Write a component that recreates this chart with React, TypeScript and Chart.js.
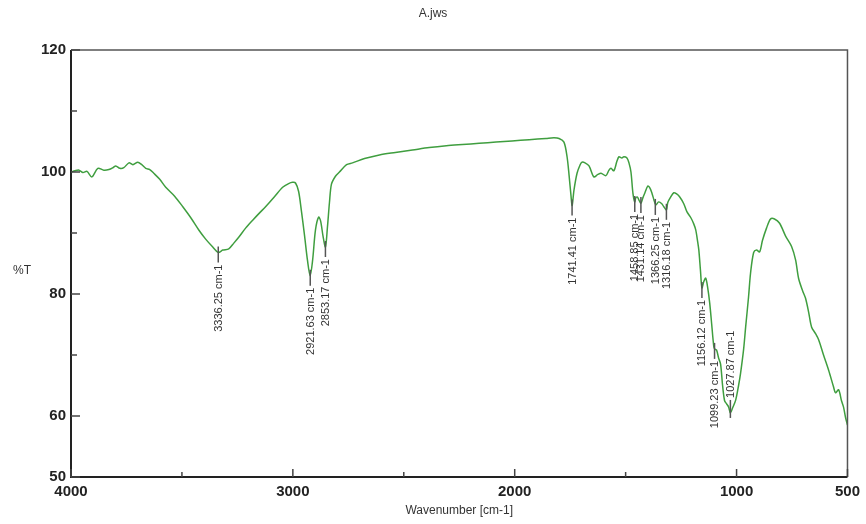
import { useEffect, useRef } from 'react';
import { Chart, registerables } from 'chart.js';

Chart.register(...registerables);

const chartTitle = 'A.jws';
const xAxisTitle = 'Wavenumber [cm-1]';
const yAxisTitle = '%T';

const wavenumbers = [
  4000, 3982, 3964, 3946, 3928, 3906, 3879, 3852, 3829, 3811, 3798, 3780, 3762, 3739, 3721, 3699, 3681, 3663,
  3645, 3627, 3600, 3573, 3532, 3496, 3460, 3424, 3393, 3361, 3336, 3316, 3289, 3267, 3244, 3213, 3181, 3150,
  3123, 3082, 3046, 3019, 3001, 2988, 2974, 2961, 2947, 2934, 2922, 2911, 2898, 2884, 2875, 2864, 2853, 2844,
  2835, 2826, 2808, 2790, 2758, 2731, 2677, 2610, 2538, 2461, 2385, 2308, 2236, 2160, 2084, 2012, 1935, 1859,
  1823, 1800, 1778, 1764, 1755, 1746, 1741, 1733, 1719, 1705, 1697, 1683, 1665, 1643, 1625, 1611, 1589, 1575,
  1566, 1553, 1539, 1530, 1517, 1508, 1494, 1485, 1476, 1467, 1459, 1454, 1447, 1440, 1431, 1422, 1413, 1400,
  1391, 1382, 1373, 1364, 1351, 1337, 1328, 1316, 1310, 1297, 1283, 1270, 1256, 1238, 1224, 1206, 1193, 1184,
  1175, 1170, 1163, 1156, 1148, 1139, 1130, 1121, 1112, 1103, 1099, 1090, 1081, 1072, 1063, 1054, 1045, 1036,
  1028, 1018, 1004, 991, 982, 968, 959, 946, 937, 923, 910, 896, 883, 865, 847, 829, 806, 779, 752, 734, 720,
  702, 689, 675, 662, 644, 630, 608, 585, 563, 554, 540, 527, 518, 509, 500,
];

const transmittance = [
  100.0, 100.2, 100.3, 99.9, 100.1, 99.2, 100.6, 100.3, 100.4, 100.7, 101.0, 100.6, 100.7, 101.5, 101.2, 101.6, 101.2, 100.6,
  100.4, 99.8, 98.8, 97.5, 96.0, 94.3, 92.5, 90.5, 89.0, 87.7, 86.8, 87.2, 87.4, 88.3, 89.3, 90.8, 92.1, 93.3,
  94.3, 96.0, 97.5, 98.1, 98.3, 98.2, 96.8, 93.5, 89.5, 85.5, 83.0, 85.5, 90.5, 92.6, 92.0, 89.5, 87.7, 91.0,
  95.0, 98.0, 99.3, 100.0, 101.2, 101.5, 102.2, 102.8, 103.2, 103.6, 104.0, 104.3, 104.5, 104.7, 104.9, 105.1, 105.3, 105.5,
  105.6, 105.5, 104.9, 102.5, 99.5, 96.0, 94.5, 97.0, 99.8, 101.2, 101.6, 101.5, 101.0, 99.2, 99.6, 99.8, 99.4, 100.3,
  100.6, 100.2, 101.8, 102.5, 102.3, 102.5, 102.3, 101.5, 100.0, 96.5, 95.1, 95.8, 95.9, 95.4, 94.9, 95.8, 96.6, 97.7,
  97.4, 96.6, 95.5, 94.6, 95.1, 94.8, 94.3, 93.8, 95.0, 95.9, 96.6, 96.4, 95.9, 94.8, 93.5, 92.5, 91.5, 90.5,
  88.5, 87.2, 84.0, 81.0, 82.0, 82.6, 81.0, 78.5, 75.0, 71.5, 71.0, 70.8, 69.5, 68.5, 65.0, 62.5, 62.0, 61.5,
  60.5, 61.3, 62.6, 65.0, 67.0, 71.0, 74.6, 79.5, 83.4, 86.8, 87.2, 86.9, 88.8, 90.8, 92.3, 92.3, 91.6, 89.5, 87.8, 85.6, 82.5,
  80.5, 79.3, 77.0, 74.6, 73.5, 72.5, 70.0, 67.5, 64.8, 63.8, 64.3, 62.5, 61.5, 59.8, 58.5,
];

const peakWavenumbers = [3336.25, 2921.63, 2853.17, 1741.41, 1458.85, 1431.14, 1366.25, 1316.18, 1156.12, 1099.23, 1027.87];
const peakValues = [86.8, 83.0, 87.7, 94.5, 95.1, 94.9, 94.6, 93.8, 81.0, 71.0, 60.5];
const peakLabels = [
  '3336.25 cm-1', '2921.63 cm-1', '2853.17 cm-1', '1741.41 cm-1', '1458.85 cm-1', '1431.14 cm-1',
  '1366.25 cm-1', '1316.18 cm-1', '1156.12 cm-1', '1099.23 cm-1', '1027.87 cm-1',
];
const peakSides = ['below', 'below', 'below', 'below', 'below', 'below', 'below', 'below', 'below', 'below', 'above'];

const yTickValues = [50, 60, 70, 80, 90, 100, 110, 120];
const yTickLabels = ['50', '60', '', '80', '', '100', '', '120'];
const xTickValues = [4000, 3500, 3000, 2500, 2000, 1500, 1000, 500];
const xTickLabels = ['4000', '', '3000', '', '2000', '', '1000', '500'];

const FONT = '"Liberation Sans", Arial, sans-serif';

const decorPlugin = {
  id: 'decor',
  afterDraw(chart: any) {
    const ctx = chart.ctx;
    const { left, right, top, bottom } = chart.chartArea;
    const xs = chart.scales.x;
    const ys = chart.scales.y;
    ctx.save();

    // frame
    ctx.strokeStyle = '#555';
    ctx.lineWidth = 1.5;
    ctx.beginPath();
    ctx.moveTo(left, top);
    ctx.lineTo(right, top);
    ctx.lineTo(right, bottom);
    ctx.stroke();
    ctx.strokeStyle = '#222';
    ctx.lineWidth = 2;
    ctx.beginPath();
    ctx.moveTo(left, top);
    ctx.lineTo(left, bottom);
    ctx.lineTo(right, bottom);
    ctx.stroke();

    // inward ticks
    ctx.lineWidth = 1.5;
    ctx.strokeStyle = '#444';
    yTickValues.forEach((v, i) => {
      const py = ys.getPixelForValue(v);
      const len = yTickLabels[i] ? 9 : 6;
      ctx.beginPath();
      ctx.moveTo(left, py);
      ctx.lineTo(left + len, py);
      ctx.stroke();
    });
    xTickValues.forEach((v, i) => {
      const px = xs.getPixelForValue(v);
      const len = xTickLabels[i] ? 8 : 5;
      ctx.beginPath();
      ctx.moveTo(px, bottom);
      ctx.lineTo(px, bottom - len);
      ctx.stroke();
    });

    // peak annotations
    ctx.font = `11px ${FONT}`;
    ctx.fillStyle = '#333';
    peakWavenumbers.forEach((w, i) => {
      const px = xs.getPixelForValue(w);
      const py = ys.getPixelForValue(peakValues[i]);
      ctx.strokeStyle = '#555';
      ctx.lineWidth = 1.5;
      ctx.beginPath();
      if (peakSides[i] === 'above') {
        ctx.moveTo(px, py + 5);
        ctx.lineTo(px, py - 13);
      } else {
        ctx.moveTo(px, py - 6);
        ctx.lineTo(px, py + 10);
      }
      ctx.stroke();
      ctx.save();
      if (peakSides[i] === 'above') {
        ctx.translate(px, py - 15);
        ctx.rotate(-Math.PI / 2);
        ctx.textAlign = 'left';
      } else {
        ctx.translate(px, py + 12);
        ctx.rotate(-Math.PI / 2);
        ctx.textAlign = 'right';
      }
      ctx.textBaseline = 'middle';
      ctx.fillText(peakLabels[i], 0, 0.5);
      ctx.restore();
    });

    // titles
    ctx.fillStyle = '#333';
    ctx.textAlign = 'center';
    ctx.textBaseline = 'middle';
    ctx.font = `12px ${FONT}`;
    ctx.fillText(chartTitle, 433, 14);
    ctx.fillText(xAxisTitle, (left + right) / 2, 511);
    ctx.fillText(yAxisTitle, 22, 271);
    ctx.restore();
  },
};

export default function App() {
  const canvasRef = useRef<HTMLCanvasElement | null>(null);

  useEffect(() => {
    const canvas = canvasRef.current;
    if (!canvas) return;
    const chart = new Chart(canvas, {
      type: 'line',
      data: {
        datasets: [
          {
            data: wavenumbers.map((w, i) => ({ x: w, y: transmittance[i] })),
            borderColor: '#3f9e3f',
            borderWidth: 1.5,
            pointRadius: 0,
            tension: 0.3,
            fill: false,
          },
        ],
      },
      options: {
        responsive: false,
        animation: false,
        layout: { padding: { left: 0, right: 17, top: 50, bottom: 0 } },
        plugins: { legend: { display: false }, tooltip: { enabled: false }, title: { display: false } },
        scales: {
          x: {
            type: 'linear',
            reverse: true,
            min: 500,
            max: 4000,
            grid: { display: false, drawTicks: false },
            border: { display: false },
            afterBuildTicks: (scale: any) => {
              scale.ticks = xTickValues.map((v) => ({ value: v }));
            },
            afterFit: (scale: any) => {
              scale.height = 47;
            },
            ticks: {
              autoSkip: false,
              maxRotation: 0,
              padding: 6,
              color: '#222',
              font: { family: FONT, size: 15, weight: 'bold' },
              callback: (v: any) => xTickLabels[xTickValues.indexOf(Number(v))] ?? '',
            },
          },
          y: {
            type: 'linear',
            min: 50,
            max: 120,
            grid: { display: false, drawTicks: false },
            border: { display: false },
            afterBuildTicks: (scale: any) => {
              scale.ticks = yTickValues.map((v) => ({ value: v }));
            },
            afterFit: (scale: any) => {
              scale.width = 71;
            },
            ticks: {
              autoSkip: false,
              padding: 5,
              color: '#222',
              font: { family: FONT, size: 15, weight: 'bold' },
              callback: (v: any) => yTickLabels[yTickValues.indexOf(Number(v))] ?? '',
            },
          },
        },
      },
      plugins: [decorPlugin],
    });
    return () => chart.destroy();
  }, []);

  return (
    <div style={{ position: 'absolute', left: 0, top: 0, width: 866, height: 524, background: '#fff' }}>
      <canvas ref={canvasRef} width={866} height={524} style={{ display: 'block' }} />
    </div>
  );
}
